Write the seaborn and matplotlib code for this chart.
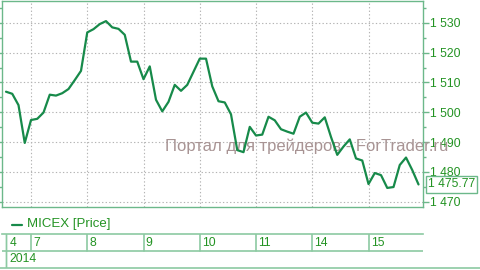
import matplotlib
matplotlib.use("Agg")
import matplotlib.pyplot as plt
import matplotlib.ticker as mticker
from matplotlib.lines import Line2D
from matplotlib.transforms import blended_transform_factory
import seaborn as sns
import pandas as pd
import numpy as np

# ---- data ----
prices = [1506.9, 1506.2, 1502.4, 1489.7,
          1497.4, 1497.8, 1499.9, 1505.9, 1505.6, 1506.4, 1507.8, 1510.8, 1513.9,
          1526.8, 1527.9, 1529.6, 1530.6, 1528.5, 1528.0, 1526.0, 1517.0, 1517.0,
          1511.1, 1515.4, 1504.2, 1500.3, 1503.5, 1509.2, 1507.2, 1509.2, 1513.6,
          1518.0, 1518.0, 1508.7, 1503.7, 1503.3, 1499.3, 1487.3, 1486.6, 1495.1,
          1492.2, 1492.5, 1498.5, 1497.3, 1494.3, 1493.5, 1492.8, 1498.5, 1499.9,
          1496.5, 1496.2, 1498.3, 1491.7, 1485.7, 1488.5, 1490.9, 1484.5, 1483.8,
          1475.9, 1479.6, 1478.9, 1474.6, 1474.9, 1482.3, 1484.8, 1480.6, 1475.77]
day_labels = ["4", "7", "8", "9", "10", "11", "14", "15"]
day_start_idx = [-5, 4, 13, 22, 31, 40, 49, 58]
year_label = "2014"
series_name = "MICEX [Price]"
y_ticks = [1470, 1480, 1490, 1500, 1510, 1520, 1530]
watermark = "Портал для трейдеров - ForTrader.ru"

df = pd.DataFrame({"i": np.arange(len(prices)), "price": prices})

# ---- style ----
sns.set_style("white")
plt.rcParams["font.family"] = ["Liberation Sans", "DejaVu Sans"]
LINE = "#178a4a"
TXT = "#239323"
SPINE = "#6cb88a"
TABLE = "#8ccaa2"
GRID = "#b4b4b4"

W, H = 481, 270
fig = plt.figure(figsize=(W / 100, H / 100), dpi=100)
x0, x1 = 2, 422.7
ax = fig.add_axes([x0 / W, 1 - 207 / H, (x1 - x0) / W, (207 - 1) / H])

sns.lineplot(data=df, x="i", y="price", ax=ax, color=LINE, linewidth=1.6,
             zorder=3, legend=False)
ax.set_xlim(-0.64, 66.67)
ax.set_ylim(1468.2, 1537.35)
ax.set_xlabel("")
ax.set_ylabel("")

for s in ax.spines.values():
    s.set_color(SPINE)
    s.set_linewidth(1.0)

ax.set_yticks(y_ticks)
ax.yaxis.set_minor_locator(mticker.MultipleLocator(5))
ax.yaxis.set_major_formatter(mticker.FuncFormatter(
    lambda v, p: "{:,.0f}".format(v).replace(",", " ")))
ax.tick_params(axis="y", which="both", left=True, right=True, labelleft=False,
               labelright=True, color=SPINE)
ax.tick_params(axis="y", which="major", direction="out", length=4, width=1,
               labelcolor=TXT, labelsize=8.7, pad=1)
ax.tick_params(axis="y", which="minor", direction="out", length=2, width=1)
ax.set_xticks(day_start_idx[1:])
ax.tick_params(axis="x", bottom=False, labelbottom=False)
ax.grid(True, which="major", color=GRID, linestyle=(0, (1.2, 2.0)), linewidth=0.8)
ax.set_axisbelow(True)

# last value box
tr = blended_transform_factory(ax.transAxes, ax.transData)
ax.text(1.0 + 5.2 / (x1 - x0), prices[-1], "{:.2f}".format(prices[-1]).replace("1475", "1 475"),
        transform=tr, va="center", ha="left", fontsize=8.7, color=TXT, zorder=5,
        bbox=dict(boxstyle="square,pad=0.18", facecolor="white", edgecolor=SPINE, linewidth=1))

# watermark
ax.text(165 / W, 1 - 146 / H, watermark, transform=fig.transFigure, fontsize=12,
        color="#a89494", va="center", ha="left", zorder=1, clip_on=False)

# legend
fig.add_artist(Line2D([12 / W, 22 / W], [1 - 224.5 / H] * 2, color=LINE, linewidth=1.6))
fig.text(27 / W, 1 - 224.5 / H, series_name, fontsize=9.5, color=TXT, va="center", ha="left")

# timeline table
tl = fig.add_axes([x0 / W, 1 - 267.7 / H, (x1 - x0) / W, (267.7 - 234.3) / H])
tl.set_xlim(ax.get_xlim())
tl.set_ylim(0, 2)
tl.set_xticks([])
tl.set_yticks([])
tl.patch.set_alpha(0)
for k, s in tl.spines.items():
    s.set_color(TABLE)
    s.set_linewidth(1.2)
    s.set_visible(k in ("top",))
tl.axhline(1, color=TABLE, linewidth=1.2)
for xa in (0.0, 4.3 / (x1 - x0)):
    tl.axvline(xa, color=TABLE, linewidth=1.0)
for d in day_start_idx[1:]:
    tl.plot([d, d], [1, 2], color=TABLE, linewidth=1.2)
for lab, d in zip(day_labels, day_start_idx):
    xd = max(d, -0.64 + 5.8 / 6.25)
    tl.text(xd + 2.3 / 6.25, 1.5, lab, fontsize=8.7, color=TXT, va="center", ha="left")
tl.text(-0.64 + 5.8 / 6.25 + 0.3, 0.5, year_label, fontsize=8.7, color=TXT, va="center", ha="left")
fig.add_artist(Line2D([0, 1], [1 - 267.7 / H] * 2, color=TABLE, linewidth=1.2))

fig.savefig("out.png", dpi=100)
